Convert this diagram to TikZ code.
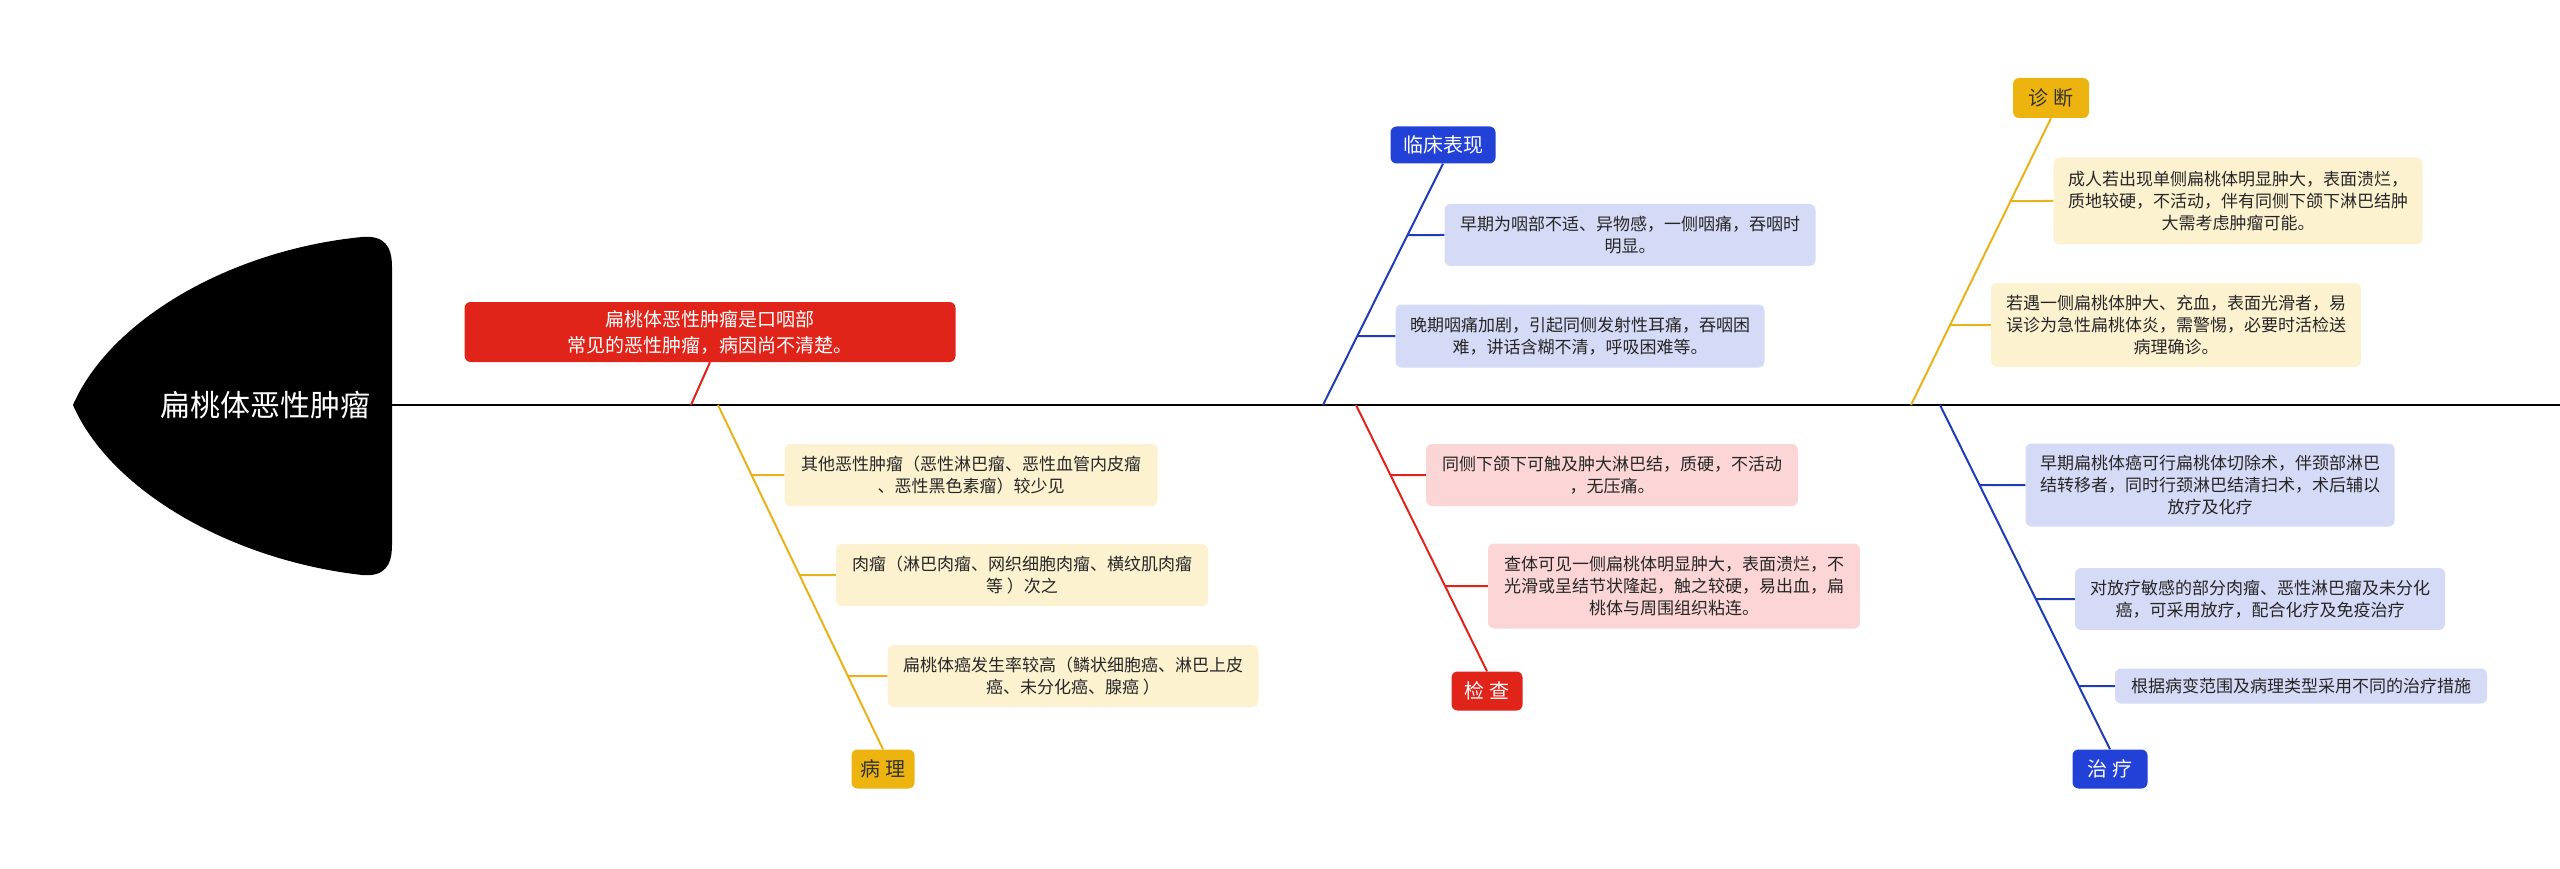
\documentclass[tikz,border=0pt]{standalone}
\usepackage{fontspec}
\setmainfont{Noto Sans CJK SC}
\begin{document}
\begin{tikzpicture}[x=1pt,y=-1pt,
  box/.style={rounded corners=6pt,align=center,font=\fontsize{17}{22}\selectfont,text=black!85,inner sep=0pt},
  ybox/.style={box,fill=ylf},bbox/.style={box,fill=blf},rbox/.style={box,fill=rdf},
  lab/.style={rounded corners=6pt,font=\fontsize{20}{24}\selectfont,inner sep=0pt,align=center},
  yl/.style={draw=yl,line width=2pt},bl/.style={draw=bl,line width=2pt},rl/.style={draw=rd,line width=2pt}]
\definecolor{yl}{HTML}{E8B21B}\definecolor{ylf}{HTML}{FDF2D0}
\definecolor{bl}{HTML}{1F3BB5}\definecolor{blf}{HTML}{D5DAF6}
\definecolor{rd}{HTML}{E0241A}\definecolor{rdf}{HTML}{FCD6D6}
\definecolor{lb}{HTML}{2241D6}\definecolor{ly}{HTML}{EDB40F}
\useasboundingbox (0,0) rectangle (2560,869);
% head
\fill[black] (362,237) .. controls (230,250) and (110,320) .. (73,405) .. controls (110,490) and (230,560) .. (362,575) .. controls (385,577) and (392,565) .. (392,545) -- (392,267) .. controls (392,247) and (385,235) .. (362,237) -- cycle;
\node[text=white,font=\fontsize{30}{34}\selectfont] (head) at (265,405) {扁桃体恶性肿瘤};
\coordinate (s0) at (392,405); \coordinate (s1) at (2560,405);
\draw[line width=2.5pt] (s0) -- (s1);
% top red
\node[lab,fill=rd,text=white,minimum width=491,minimum height=60,font=\fontsize{19}{26}\selectfont] (cause) at (710,332) {扁桃体恶性肿瘤是口咽部\\常见的恶性肿瘤，病因尚不清楚。};
\coordinate (c0) at (691,405);
\draw[rl] (c0) -- (cause.south);
% pathology
\coordinate (p0) at (718,405);
\node[lab,fill=ly,text=black!80,minimum width=63,minimum height=39] (patho) at (883,769) {病 理};
\draw[yl] (p0) -- (patho.north);
\node[ybox,minimum width=373,minimum height=62] (p1) at (971,475) {其他恶性肿瘤（恶性淋巴瘤、恶性血管内皮瘤\\、恶性黑色素瘤）较少见};
\node[ybox,minimum width=372,minimum height=62] (p2) at (1022,575) {肉瘤（淋巴肉瘤、网织细胞肉瘤、横纹肌肉瘤\\等 ）次之};
\node[ybox,minimum width=371,minimum height=62] (p3) at (1073,676) {扁桃体癌发生率较高（鳞状细胞癌、淋巴上皮\\癌、未分化癌、腺癌 ）};
\foreach \n in {p1,p2,p3} \draw[yl] (\n.west) -- (intersection of p0--patho.north and \n.west--{[xshift=-10]\n.west});
% clinical
\coordinate (k0) at (1323,405);
\node[lab,fill=lb,text=white,minimum width=105,minimum height=37] (clin) at (1443,145) {临床表现};
\draw[bl] (k0) -- (clin.south);
\node[bbox,minimum width=371,minimum height=62] (k1) at (1630,235) {早期为咽部不适、异物感，一侧咽痛，吞咽时\\明显。};
\node[bbox,minimum width=369,minimum height=63] (k2) at (1580,336) {晚期咽痛加剧，引起同侧发射性耳痛，吞咽困\\难，讲话含糊不清，呼吸困难等。};
\foreach \n in {k1,k2} \draw[bl] (\n.west) -- (intersection of k0--clin.south and \n.west--{[xshift=-10]\n.west});
% exam
\coordinate (e0) at (1356,405);
\node[lab,fill=rd,text=white,minimum width=71,minimum height=39] (exam) at (1487,691) {检 查};
\draw[rl] (e0) -- (exam.north);
\node[rbox,minimum width=372,minimum height=62] (e1) at (1612,475) {同侧下颌下可触及肿大淋巴结，质硬，不活动\\，无压痛。};
\node[rbox,minimum width=372,minimum height=85] (e2) at (1674,586) {查体可见一侧扁桃体明显肿大，表面溃烂，不\\光滑或呈结节状隆起，触之较硬，易出血，扁\\桃体与周围组织粘连。};
\foreach \n in {e1,e2} \draw[rl] (\n.west) -- (intersection of e0--exam.north and \n.west--{[xshift=-10]\n.west});
% diagnosis
\coordinate (d0) at (1911,405);
\node[lab,fill=ly,text=black!80,minimum width=76,minimum height=40] (diag) at (2051,98) {诊 断};
\draw[yl] (d0) -- (diag.south);
\node[ybox,minimum width=369,minimum height=87] (d1) at (2238,201) {成人若出现单侧扁桃体明显肿大，表面溃烂，\\质地较硬，不活动，伴有同侧下颌下淋巴结肿\\大需考虑肿瘤可能。};
\node[ybox,minimum width=370,minimum height=84] (d2) at (2176,325) {若遇一侧扁桃体肿大、充血，表面光滑者，易\\误诊为急性扁桃体炎，需警惕，必要时活检送\\病理确诊。};
\foreach \n in {d1,d2} \draw[yl] (\n.west) -- (intersection of d0--diag.south and \n.west--{[xshift=-10]\n.west});
% treatment
\coordinate (t0) at (1940,405);
\node[lab,fill=lb,text=white,minimum width=75,minimum height=39] (treat) at (2110,769) {治 疗};
\draw[bl] (t0) -- (treat.north);
\node[bbox,minimum width=369,minimum height=83] (t1) at (2210,485) {早期扁桃体癌可行扁桃体切除术，伴颈部淋巴\\结转移者，同时行颈淋巴结清扫术，术后辅以\\放疗及化疗};
\node[bbox,minimum width=370,minimum height=62] (t2) at (2260,599) {对放疗敏感的部分肉瘤、恶性淋巴瘤及未分化\\癌，可采用放疗，配合化疗及免疫治疗};
\node[bbox,minimum width=372,minimum height=35] (t3) at (2301,686) {根据病变范围及病理类型采用不同的治疗措施};
\foreach \n in {t1,t2,t3} \draw[bl] (\n.west) -- (intersection of t0--treat.north and \n.west--{[xshift=-10]\n.west});
\end{tikzpicture}
\end{document}
